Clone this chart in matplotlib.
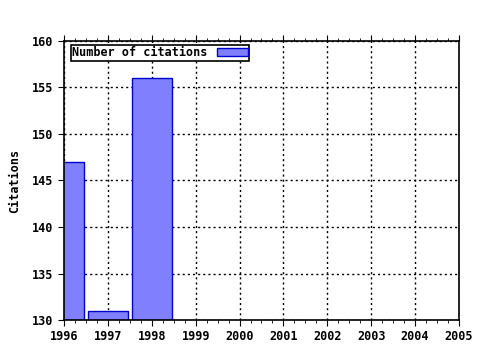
import matplotlib
matplotlib.use("Agg")
from matplotlib import pyplot as plt
from matplotlib.ticker import MultipleLocator

years = [1996, 1997, 1998]
citations = [147, 131, 156]
xticks = list(range(1996, 2006))
yticks = [130, 135, 140, 145, 150, 155, 160]

plt.rcParams['font.family'] = 'DejaVu Sans Mono'
plt.rcParams['font.weight'] = 'bold'
plt.rcParams['font.size'] = 8.5

fig = plt.figure(figsize=(4.8, 3.5), dpi=100)
ax = fig.add_axes([0.1333, 0.0857, 0.8229, 0.7972])

ax.bar(years, [c - 130 for c in citations], bottom=130, width=0.9,
       color='#8080ff', edgecolor='#0000cc', linewidth=1,
       label='Number of citations', zorder=2)

ax.set_xlim(1996, 2005)
ax.set_ylim(130, 160)
ax.set_xticks(xticks)
ax.set_yticks(yticks)
ax.xaxis.set_minor_locator(MultipleLocator(0.25))
ax.tick_params(axis='x', which='both', top=True, direction='out')
ax.tick_params(axis='x', which='major', length=4)
ax.tick_params(axis='x', which='minor', length=2)
ax.tick_params(axis='y', length=4)
ax.grid(True, which='major', color='black', linestyle=(0, (1.5, 2.2)), linewidth=1, zorder=1)
ax.set_axisbelow(True)
for s in ax.spines.values():
    s.set_linewidth(1.2)

ax.set_ylabel('Citations', fontweight='bold', labelpad=8)

leg = ax.legend(loc='upper left', bbox_to_anchor=(0.018, 0.985), fancybox=False,
                framealpha=1, edgecolor='black', borderpad=0.1,
                handlelength=2.6, handleheight=0.6, borderaxespad=0,
                markerfirst=False, handletextpad=0.8)
leg.get_frame().set_linewidth(1.2)

fig.savefig('out.png', dpi=100)
